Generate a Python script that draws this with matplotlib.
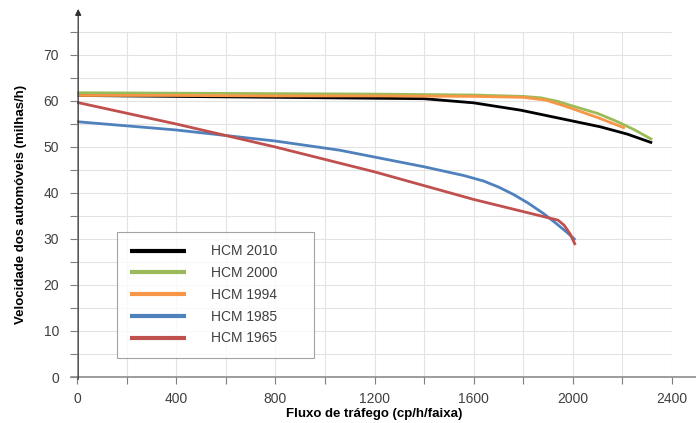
import numpy as np
import matplotlib
matplotlib.use('Agg')
import matplotlib.pyplot as plt
from matplotlib.ticker import MultipleLocator

# curves (flow cp/h/faixa, speed mi/h)
flow_2010  = [0, 400, 800, 1200, 1400, 1600, 1790, 1950, 2110, 2220, 2320]
speed_2010 = [61.2, 61.0, 60.8, 60.6, 60.5, 59.6, 58.0, 56.2, 54.4, 52.8, 50.9]

flow_2000  = [0, 400, 800, 1200, 1600, 1800, 1870, 1940, 2000, 2100, 2180, 2250, 2320]
speed_2000 = [61.8, 61.7, 61.6, 61.5, 61.3, 61.0, 60.7, 59.9, 58.9, 57.3, 55.5, 53.7, 51.6]

flow_1994  = [0, 400, 800, 1200, 1600, 1800, 1890, 1950, 2000, 2100, 2210]
speed_1994 = [61.2, 61.2, 61.1, 61.1, 61.0, 60.8, 60.2, 59.2, 58.3, 56.4, 54.1]

flow_1985  = [0, 400, 800, 1060, 1400, 1560, 1640, 1700, 1760, 1820, 1880, 1930, 1975, 2010]
speed_1985 = [55.5, 53.7, 51.3, 49.3, 45.7, 43.8, 42.6, 41.3, 39.7, 37.8, 35.6, 33.5, 31.5, 29.8]

flow_1965  = [0, 400, 800, 1200, 1600, 1940, 1965, 1990, 2010]
speed_1965 = [59.7, 55.0, 50.0, 44.6, 38.6, 34.1, 33.0, 31.0, 28.7]

series = [
    ('HCM 2010', flow_2010, speed_2010, 'black'),
    ('HCM 2000', flow_2000, speed_2000, '#9bbb59'),
    ('HCM 1994', flow_1994, speed_1994, '#f79646'),
    ('HCM 1985', flow_1985, speed_1985, '#4f81bd'),
    ('HCM 1965', flow_1965, speed_1965, '#c0504d'),
]

plt.rcParams['font.family'] = ['Liberation Sans', 'DejaVu Sans']

fig = plt.figure(figsize=(6.96, 4.23), dpi=100)
ax = fig.add_axes([77/696, 46/423, (672-77)/696, (377-32)/423])

for name, fx, sy, col in series:
    ax.plot(fx, sy, color=col, lw=2.0, label=name + '      ', solid_capstyle='butt')

ax.set_xlim(0, 2400)
ax.set_ylim(0, 75)
ax.xaxis.set_major_locator(MultipleLocator(400))
ax.xaxis.set_minor_locator(MultipleLocator(200))
ax.yaxis.set_major_locator(MultipleLocator(10))
ax.yaxis.set_minor_locator(MultipleLocator(5))
ax.grid(which='both', color='#e3e3e3', lw=0.8)
ax.set_axisbelow(True)
for s in ax.spines.values():
    s.set_visible(False)

ax.tick_params(axis='both', which='both', colors='#7f7f7f', labelcolor='#404040', labelsize=10, length=5, width=0.8)
ax.tick_params(axis='x', which='major', pad=6)
ax.tick_params(axis='y', which='major', pad=8)

# axis lines: bottom extends past the grid, left ends in an arrow
ax.plot([-0.01, 1.045], [0, 0], transform=ax.transAxes, color='#8c8c8c', lw=1.2, clip_on=False)
ax.annotate('', xy=(0.002, 1.075), xytext=(0.002, -0.015), xycoords='axes fraction',
            arrowprops=dict(arrowstyle='-|>', color='#303030', lw=0.9, mutation_scale=9))

ax.set_xlabel('Fluxo de tráfego (cp/h/faixa)', fontweight='bold', fontsize=9.5, labelpad=1)
ax.set_ylabel('Velocidade dos automóveis (milhas/h)', fontweight='bold', fontsize=9.5, labelpad=12)

leg = ax.legend(loc='lower left', bbox_to_anchor=(40/595, 19/345), frameon=True, fancybox=False,
                fontsize=10, handlelength=4.1, handletextpad=1.8, borderpad=0.9,
                labelspacing=0.56, edgecolor='#8c8c8c', borderaxespad=0)
leg.get_frame().set_linewidth(0.8)
for t in leg.get_texts():
    t.set_color('#404040')
for h in leg.get_lines():
    h.set_linewidth(3.0)

fig.savefig('out.png', dpi=100)
